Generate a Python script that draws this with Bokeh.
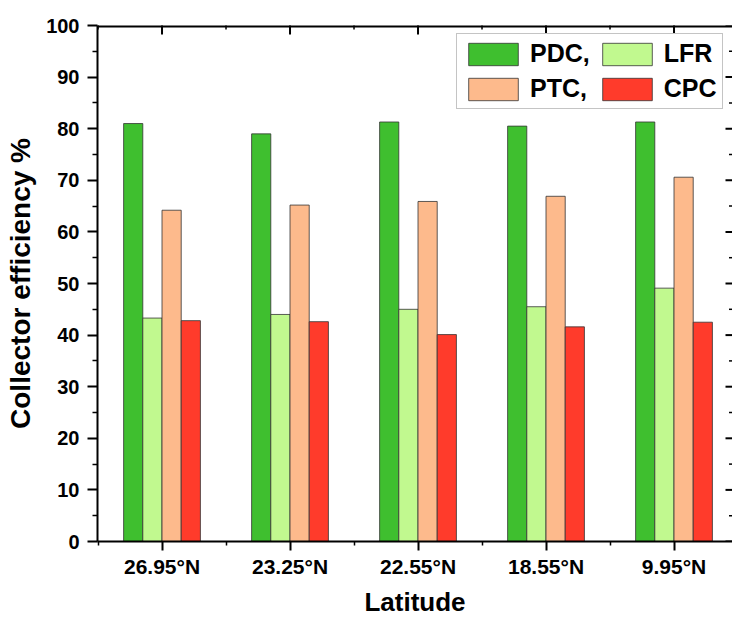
import math
from bokeh.plotting import figure
from bokeh.models import (ColumnDataSource, Range1d, LinearAxis, FixedTicker,
                          Legend, LegendItem)
from bokeh.transform import dodge
from bokeh.embed import file_html
from bokeh.resources import INLINE

# ---- data ----
categories = ["26.95°N", "23.25°N", "22.55°N", "18.55°N", "9.95°N"]
pdc = [81.0, 79.0, 81.3, 80.5, 81.3]
lfr = [43.3, 44.0, 45.0, 45.5, 49.1]
ptc = [64.2, 65.2, 65.9, 66.9, 70.6]
cpc = [42.8, 42.6, 40.1, 41.6, 42.5]
series_names = ["PDC,", "LFR", "PTC,", "CPC"]
series_colors = ["#3FBF2F", "#C1F98F", "#FDBA8C", "#FF3B2B"]
y_major = [0, 10, 20, 30, 40, 50, 60, 70, 80, 90, 100]
y_minor = [5, 15, 25, 35, 45, 55, 65, 75, 85, 95]

idx = list(range(len(categories)))
x_minor = [i - 0.5 for i in idx] + [idx[-1] + 0.5]
src = ColumnDataSource(dict(x=idx, pdc=pdc, lfr=lfr, ptc=ptc, cpc=cpc))

FONT = "Liberation Sans"
W, H = 732, 619
LEFT, TOP = 97, 25
PX_PER_CAT = 128.0
x_start = -0.504
x_end = x_start + (W - LEFT) / PX_PER_CAT

p = figure(width=W, height=H, output_backend="svg", toolbar_location=None,
           x_range=Range1d(x_start, x_end), y_range=Range1d(0, 100),
           x_axis_location=None, y_axis_location=None,
           min_border_left=LEFT, min_border_right=0, min_border_top=TOP,
           min_border_bottom=0)
p.outline_line_color = None
p.xgrid.grid_line_color = None
p.ygrid.grid_line_color = None
p.background_fill_color = "white"
p.border_fill_color = "white"

bw = 0.15
offsets = [-0.225, -0.075, 0.075, 0.225]
keys = ["pdc", "lfr", "ptc", "cpc"]
renderers = []
for k, off, col in zip(keys, offsets, series_colors):
    r = p.vbar(x=dodge("x", off, range=p.x_range), top=k, width=bw, bottom=0,
               source=src, fill_color=col, line_color="#333333", line_width=0.8)
    renderers.append(r)

# top spine (half clipped by the frame) and inward ticks on top / right
p.hspan(y=[100], line_color="black", line_width=4)
p.scatter(x=idx, y=[100] * len(idx), marker="dash", angle=math.pi / 2,
          size=18, line_color="black", line_width=2)
p.scatter(x=x_minor, y=[100] * len(x_minor), marker="dash", angle=math.pi / 2,
          size=8, line_color="black", line_width=1.5)
p.scatter(x=[x_end] * len(y_major), y=y_major, marker="dash",
          size=14, line_color="black", line_width=2)
p.scatter(x=[x_end] * len(y_minor), y=y_minor, marker="dash",
          size=7, line_color="black", line_width=1.5)

xt = FixedTicker(ticks=idx, minor_ticks=x_minor)
yt = FixedTicker(ticks=y_major, minor_ticks=y_minor)

def style(ax):
    ax.axis_line_color = "black"
    ax.axis_line_width = 2
    ax.major_tick_line_color = "black"
    ax.major_tick_line_width = 2
    ax.minor_tick_line_color = "black"
    ax.minor_tick_line_width = 1.5
    ax.major_label_text_font = FONT
    ax.major_label_text_font_style = "bold"
    ax.major_label_text_color = "black"
    ax.axis_label_text_font = FONT
    ax.axis_label_text_font_style = "bold"
    ax.axis_label_text_color = "black"

# left axis
ly = LinearAxis(ticker=yt, axis_label="Collector efficiency %")
style(ly)
ly.major_tick_out = 10
ly.major_tick_in = 0
ly.minor_tick_out = 5
ly.minor_tick_in = 0
ly.major_label_text_font_size = "20px"
ly.major_label_standoff = 8
ly.axis_label_text_font_size = "28px"
ly.axis_label_standoff = 7
p.add_layout(ly, "left")

# bottom axis
bx = LinearAxis(ticker=xt, axis_label="Latitude")
style(bx)
bx.major_label_overrides = {i: c for i, c in zip(idx, categories)}
bx.major_tick_out = 9
bx.major_tick_in = 0
bx.minor_tick_out = 4
bx.minor_tick_in = 0
bx.major_label_text_font_size = "21px"
bx.major_label_standoff = 4
bx.axis_label_text_font_size = "26px"
bx.axis_label_standoff = 6
p.add_layout(bx, "below")

# legend: column-first order so rows read "PDC, LFR" / "PTC, CPC"
order = [0, 2, 1, 3]
items = [LegendItem(label=series_names[i], renderers=[renderers[i]]) for i in order]
legend = Legend(items=items, ncols=2, location=(359, 432),
                glyph_width=62, glyph_height=28, label_height=28,
                label_text_font=FONT, label_text_font_style="bold",
                label_text_font_size="25px", label_text_color="black",
                label_standoff=6, spacing=6, padding=5, margin=0,
                border_line_color="#8a8a8a", border_line_width=1.5,
                background_fill_color="white", background_fill_alpha=1.0)
p.add_layout(legend, "center")

open("out.html", "w").write(file_html(p, INLINE))
